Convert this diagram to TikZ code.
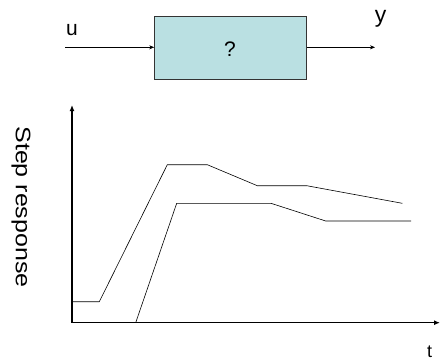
\documentclass[tikz,border=0pt]{standalone}
\usepackage{fontspec}
\setmainfont{Liberation Sans}
\usetikzlibrary{arrows.meta,positioning}
\definecolor{plantblue}{RGB}{186,224,226}

\begin{document}
\begin{tikzpicture}[
  x=1pt,
  y=-1pt,
  plantbox/.style={
    draw=black!80,
    fill=plantblue,
    line width=0.6pt,
    minimum width=152pt,
    minimum height=63pt,
    inner sep=0pt
  },
  signal/.style={
    draw=black,
    line width=0.5pt,
    -{Stealth[length=5pt,width=4pt]}
  },
  axisline/.style={
    draw=black,
    line width=1.5pt,
    -{Latex[length=6pt,width=5pt]}
  },
  response/.style={
    draw=black,
    line width=0.6pt
  },
  labeltext/.style={
    font=\fontsize{21}{25}\selectfont,
    inner sep=0pt
  }
]

\useasboundingbox (0,0) rectangle (440,362);

% block with input and output
\node[plantbox] (plant) at (230.5,47.3) {};
\node[labeltext,anchor=base] (query) at (230,56) {?};
\coordinate (uin) at (65,47.3);
\coordinate (yout) at (375,47.3);
\draw[signal] (uin) -- (plant.west);
\draw[signal] (plant.east) -- (yout);
\node[labeltext,anchor=base] (ulabel) at (72,35) {u};
\node[labeltext,anchor=base,font=\fontsize{23}{27}\selectfont] (ylabel) at (380.5,22) {y};

% axes
\coordinate (origin) at (72,322.7);
\coordinate (ytop) at (72,105);
\coordinate (xend) at (440,322.7);
\draw[axisline] (origin) -- (ytop);
\draw[axisline] (origin) -- (xend);
\node[labeltext,anchor=base,font=\fontsize{18}{21}\selectfont] (tlabel) at (429.5,357) {t};
\node[labeltext,rotate=-90] (steplabel) at (21,207) {\scalebox{1.19}[1]{Step response}};

% step responses
\draw[response] (origin |- 0,301.7) -- (99.3,301.7) -- (167.3,164.7) -- (207.3,164.7)
  -- (257.3,185.7) -- (306.7,185.7) -- (402.3,203.3);
\draw[response] (135.7,322.7) -- (176.7,203.3) -- (271,203.3) -- (325.7,221) -- (411,221);

\end{tikzpicture}
\end{document}
